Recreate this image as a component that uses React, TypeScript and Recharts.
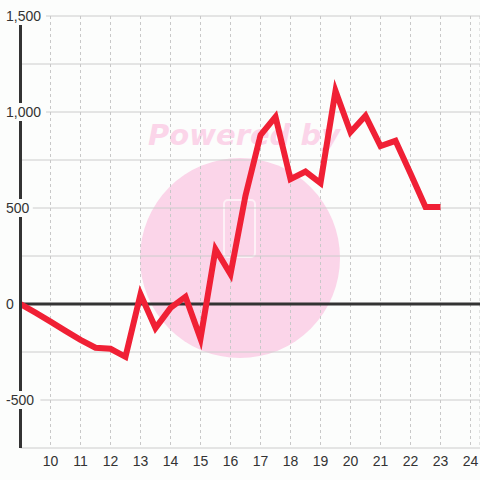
import { LineChart, Line, XAxis, YAxis, CartesianGrid, ReferenceLine } from 'recharts'

const hours = [9, 9.5, 10, 10.5, 11, 11.5, 12, 12.5, 13, 13.5, 14, 14.5, 15, 15.5, 16, 16.5, 17, 17.5, 18, 18.5, 19, 19.5, 20, 20.5, 21, 21.5, 22, 22.5, 23]
const values = [0, -45, -92, -140, -187, -228, -233, -275, 50, -125, -20, 38, -180, 285, 155, 565, 880, 975, 650, 690, 630, 1110, 895, 980, 823, 850, 680, 505, 505]
const xTicks = [10, 11, 12, 13, 14, 15, 16, 17, 18, 19, 20, 21, 22, 23, 24]
const yTicks = [-750, -500, -250, 0, 250, 500, 750, 1000, 1250, 1500]
const yLabelled = [-500, 0, 500, 1000, 1500]

const data = hours.map((h, i) => ({ h, v: values[i] }))

const FONT = '"Liberation Sans", Arial, sans-serif'
const BG = '#fcfdfc'

function YTick({ y, payload }: any) {
  if (!yLabelled.includes(payload.value)) return null
  const label = payload.value.toLocaleString('en-US')
  const w = label.length * 7.6 + (label.includes(',') ? -2 : 0)
  return (
    <g>
      <rect x={4} y={y - 9} width={w + 6} height={18} fill={BG} />
      <text x={6} y={y} dy={5} fill="#333" fontSize={14} fontFamily={FONT} textAnchor="start">{label}</text>
    </g>
  )
}

function XTick({ x, payload }: any) {
  return (
    <text x={x} y={466} fill="#333" fontSize={14} fontFamily={FONT} textAnchor="middle">{payload.value}</text>
  )
}

export default function App() {
  return (
    <div style={{ position: 'absolute', left: 0, top: 0, width: 480, height: 480, background: BG, overflow: 'hidden' }}>
      <svg width={480} height={480} style={{ position: 'absolute', left: 0, top: 0 }}>
        <circle cx={240} cy={258} r={100} fill="#fbd5e9" />
        <rect x={224} y={200} width={31} height={57} rx={4} fill="none" stroke="#fdf0f6" strokeWidth={2} />
        <text x={148} y={145} fill="#fbd5e9" fontSize={29} fontWeight="bold" fontStyle="italic" fontFamily='"DejaVu Sans", sans-serif'>Powered by</text>
      </svg>
      <div style={{ position: 'absolute', left: 0, top: 0 }}>
        <LineChart width={480} height={480} data={data} margin={{ top: 16, right: 0, bottom: 0, left: 0 }}>
          <CartesianGrid horizontal={true} vertical={false} stroke="#cccccc" strokeWidth={1} />
          <CartesianGrid horizontal={false} vertical={true} stroke="#c8c8c8" strokeDasharray="3 3" />
          <XAxis
            dataKey="h"
            type="number"
            domain={[9, 9 + 459.5 / 30]}
            ticks={xTicks}
            allowDataOverflow
            axisLine={false}
            tickLine={false}
            height={32}
            tick={<XTick />}
          />
          <YAxis
            type="number"
            domain={[-750, 1500]}
            ticks={yTicks}
            width={20.5}
            axisLine={{ stroke: '#333', strokeWidth: 3 }}
            tickLine={false}
            tick={<YTick />}
          />
          <ReferenceLine y={0} stroke="#333" strokeWidth={3} />
          <Line
            dataKey="v"
            stroke="#f02035"
            strokeWidth={6}
            dot={false}
            isAnimationActive={false}
            strokeLinejoin="miter"
          />
        </LineChart>
      </div>
    </div>
  )
}
